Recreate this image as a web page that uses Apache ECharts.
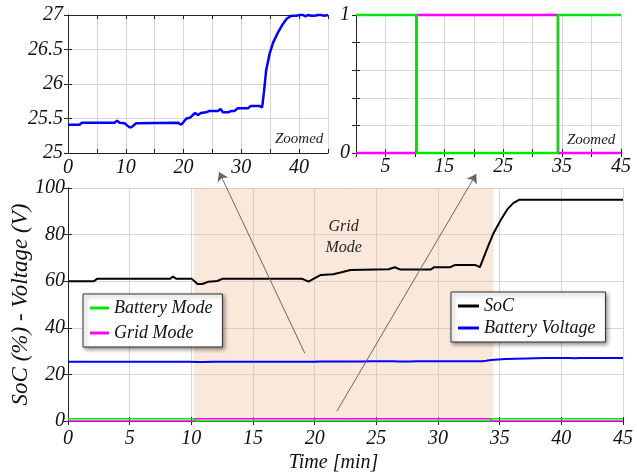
<!DOCTYPE html>
<html>
<head>
<meta charset="utf-8">
<script src="https://cdn.jsdelivr.net/npm/echarts@6/dist/echarts.min.js"></script>
<style>html,body{margin:0;padding:0;background:#fff}#c{width:637px;height:474px}</style>
</head>
<body>
<div id="c"></div>
<script>
// ---- data ----
const voltTime = [0,2.0,2.4,8.1,8.5,8.9,9.8,10.6,11.0,11.8,12.1,19.0,19.6,19.9,20.5,21.1,21.6,22.0,22.5,23.0,23.9,24.5,26.0,26.4,26.8,27.7,28.3,28.8,29.4,31.2,31.6,33.2,33.6,33.9,34.3,34.9,35.5,36.3,37.2,37.9,38.7,39.5,40.1,40.7,41.1,41.5,42.1,42.7,43.3,43.8,44.4,45];
const voltage  = [25.41,25.41,25.44,25.44,25.47,25.44,25.43,25.375,25.375,25.43,25.44,25.44,25.41,25.42,25.5,25.51,25.55,25.58,25.55,25.58,25.59,25.61,25.61,25.64,25.59,25.59,25.61,25.61,25.65,25.65,25.68,25.68,25.66,25.87,26.2,26.44,26.6,26.74,26.87,26.95,26.99,26.99,27.0,27.0,26.98,27.0,26.99,26.99,27.0,27.0,26.99,27.0];
const socTime = [0,2.1,2.35,8.3,8.5,8.8,10.05,10.5,10.9,11.4,12.1,12.5,19.0,19.5,19.9,20.5,21.5,22.1,22.9,26.0,26.5,26.95,29.4,29.7,31.0,31.4,33.0,33.4,34.0,34.5,35.1,35.6,36.1,36.6,45];
const soc     = [60,60,61,61,62,61,61,58.8,58.8,59.8,60.1,61,61,59.8,61,62.7,63,63.7,64.8,65.1,66,65,65,66,66,67,67,66,74.2,80.6,86.4,90.7,93.5,95,95];
const modeTime    = [0,10.3,34.3,45];
const batteryMode = [1,0,1,1];
const gridMode    = [0,1,0,0];
const gridModeSpan = [10.2, 34.5];
const inset1XLabels = [0,10,20,30,40];
const inset2XLabels = [5,15,25,35,45];
const inset2YLabels = [0,1];

const pairs = (xs, ys) => xs.map((x, i) => [x, ys[i]]);
const serif = "'Liberation Serif', 'DejaVu Serif', serif";
const lab = {fontFamily: serif, fontStyle: 'italic', fontSize: 20, color: '#111'};
const axLine = {show: true, lineStyle: {color: '#222', width: 1}};
const tick = {show: true, inside: true, length: 4, lineStyle: {color: '#222'}};
const split = {show: true, lineStyle: {color: '#d6d6d6', width: 1}};

function xMain(g, o) {
  return Object.assign({gridIndex: g, type: 'value', min: 0, max: 45, interval: 5,
    axisLine: axLine, axisTick: tick, splitLine: split}, o);
}
function yMain(g, o) {
  return Object.assign({gridIndex: g, type: 'value', axisLine: axLine, axisTick: tick, splitLine: split}, o);
}
function mirrorX(g) {
  return {gridIndex: g, type: 'value', position: 'top', min: 0, max: 45, interval: 5,
    axisLine: axLine, axisTick: tick, axisLabel: {show: false}, splitLine: {show: false}};
}
function mirrorY(g, min, max, interval) {
  return {gridIndex: g, type: 'value', position: 'right', min, max, interval,
    axisLine: axLine, axisTick: tick, axisLabel: {show: false}, splitLine: {show: false}};
}

const chart = echarts.init(document.getElementById('c'), null, {renderer: 'canvas'});
const legendBase = {
  orient: 'vertical', icon: 'rect', itemWidth: 19, itemHeight: 3, itemGap: 6,
  backgroundColor: '#fff', borderColor: '#333', borderWidth: 1, borderRadius: 0,
  shadowColor: 'rgba(0,0,0,0.45)', shadowBlur: 4, shadowOffsetX: 2, shadowOffsetY: 2,
  padding: [5, 10, 5, 7],
  textStyle: {fontFamily: serif, fontStyle: 'italic', fontSize: 18, color: '#111'},
  selectedMode: false
};
const gb = {containLabel: false, outerBoundsMode: 'none'};

chart.setOption({
  animation: false,
  grid: [
    Object.assign({left: 68, top: 15, width: 260, height: 138}, gb),
    Object.assign({left: 356, top: 15, width: 265, height: 138}, gb),
    Object.assign({left: 68, top: 188, width: 555, height: 233}, gb)
  ],
  xAxis: [
    xMain(0, {axisLabel: Object.assign({}, lab, {margin: 5, formatter: v => inset1XLabels.includes(v) ? String(v) : ''})}),
    xMain(1, {axisLabel: Object.assign({}, lab, {margin: 4, formatter: v => inset2XLabels.includes(v) ? String(v) : ''})}),
    xMain(2, {axisLabel: Object.assign({}, lab, {margin: 8}),
      name: 'Time [min]', nameLocation: 'middle', nameGap: 32, nameMoveOverlap: false,
      nameTextStyle: {fontFamily: serif, fontStyle: 'italic', fontSize: 20, color: '#111', padding: [0, 24, 0, 0]}}),
    mirrorX(0), mirrorX(1), mirrorX(2)
  ],
  yAxis: [
    yMain(0, {min: 25, max: 27, interval: 0.5, axisLabel: Object.assign({}, lab, {margin: 5})}),
    yMain(1, {min: 0, max: 1, interval: 0.2, axisLabel: Object.assign({}, lab, {margin: 6, formatter: v => inset2YLabels.includes(v) ? String(v) : ''})}),
    yMain(2, {min: 0, max: 100, interval: 20, axisLabel: Object.assign({}, lab, {margin: 3}),
      name: 'SoC (%) - Voltage (V)', nameLocation: 'middle', nameGap: 36, nameMoveOverlap: false,
      nameTextStyle: {fontFamily: serif, fontStyle: 'italic', fontSize: 23, color: '#111'}}),
    mirrorY(0, 25, 27, 0.5), mirrorY(1, 0, 1, 0.2), mirrorY(2, 0, 100, 20)
  ],
  legend: [
    Object.assign({}, legendBase, {data: ['Battery Mode', 'Grid Mode'], left: 83, top: 294, itemGap: 7}),
    Object.assign({}, legendBase, {data: ['SoC', 'Battery Voltage'], left: 451, top: 292, itemWidth: 21, itemGap: 4})
  ],
  series: [
    {name: 'Battery Voltage', type: 'line', xAxisIndex: 0, yAxisIndex: 0, showSymbol: false, clip: false,
      data: pairs(voltTime, voltage), lineStyle: {color: '#0000ff', width: 2.5}, itemStyle: {color: '#0000ff'}},
    {name: 'Grid Mode', type: 'line', xAxisIndex: 1, yAxisIndex: 1, showSymbol: false, clip: false, step: 'end',
      data: pairs(modeTime, gridMode), lineStyle: {color: '#ff00ff', width: 2.5}, itemStyle: {color: '#ff00ff'}},
    {name: 'Battery Mode', type: 'line', xAxisIndex: 1, yAxisIndex: 1, showSymbol: false, clip: false, step: 'end',
      data: pairs(modeTime, batteryMode), lineStyle: {color: '#00e600', width: 2.5}, itemStyle: {color: '#00e600'}},
    {name: 'SoC', type: 'line', xAxisIndex: 2, yAxisIndex: 2, showSymbol: false,
      data: pairs(socTime, soc), lineStyle: {color: '#000', width: 2}, itemStyle: {color: '#000'}, z: 4,
      markArea: {silent: true,
        itemStyle: {color: 'rgba(241,189,149,0.35)'},
        label: {show: true, position: 'insideTop', distance: 28, formatter: 'Grid\nMode',
          fontFamily: serif, fontStyle: 'italic', fontSize: 16, lineHeight: 21, color: '#222'},
        data: [[{xAxis: gridModeSpan[0]}, {xAxis: gridModeSpan[1]}]]}},
    {name: 'Battery Voltage', type: 'line', xAxisIndex: 2, yAxisIndex: 2, showSymbol: false, z: 4,
      data: pairs(voltTime, voltage), lineStyle: {color: '#0000ff', width: 2}},
    {name: 'Grid Mode', type: 'line', xAxisIndex: 2, yAxisIndex: 2, showSymbol: false, clip: false, step: 'end', z: 4,
      data: pairs(modeTime, gridMode), lineStyle: {color: '#ff00ff', width: 1.5}},
    {name: 'Battery Mode', type: 'line', xAxisIndex: 2, yAxisIndex: 2, showSymbol: false, clip: false, step: 'end', z: 4,
      data: pairs(modeTime, batteryMode), lineStyle: {color: '#00e600', width: 1.5}},
    {type: 'lines', coordinateSystem: 'cartesian2d', xAxisIndex: 2, yAxisIndex: 2, clip: false, silent: true, z: 6,
      symbol: ['none', 'arrow'], symbolSize: 9,
      lineStyle: {color: '#666', width: 1, opacity: 1},
      data: [{coords: [[19.2, 29.1], [12.25, 106.9]]}, {coords: [[21.8, 4.2], [33.1, 106]]}]}
  ],
  graphic: [
    {type: 'text', left: 275, top: 132, z: 10, style: {text: 'Zoomed', font: 'italic 15px ' + serif, fill: '#222'}},
    {type: 'text', left: 567, top: 133, z: 10, style: {text: 'Zoomed', font: 'italic 15px ' + serif, fill: '#222'}}
  ]
});
</script>
</body>
</html>
